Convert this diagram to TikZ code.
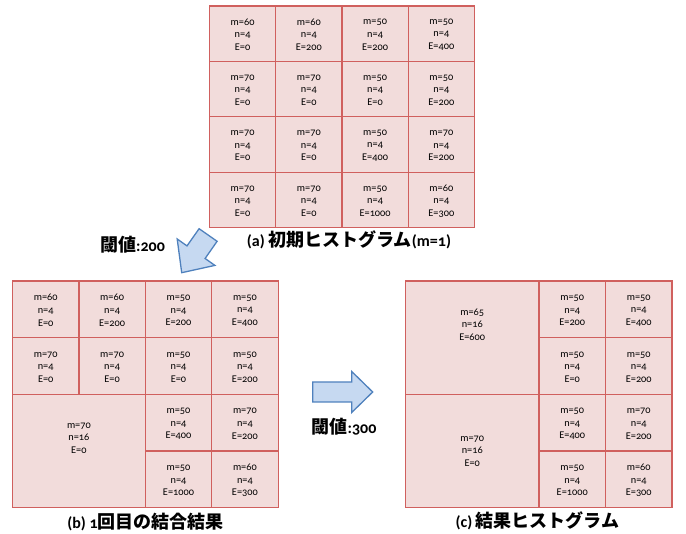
\documentclass[tikz,border=0pt]{standalone}
\usepackage{fontspec}
\setmainfont{Carlito}[Numbers=OldStyle]
\newfontfamily\cjk{Noto Sans CJK JP}
\definecolor{cellfill}{HTML}{F2DCDB}
\definecolor{cellline}{HTML}{D0605E}
\definecolor{arrfill}{HTML}{C6D9F1}
\definecolor{arrline}{HTML}{4F81BD}
\newcommand\jp[1]{{\cjk\bfseries\fontsize{18}{20}\selectfont #1}}
\tikzset{
  cellbox/.style={draw=cellline, fill=cellfill, line width=1.2pt, inner sep=0pt},
  celltext/.style={align=center, font=\fontsize{10.3}{12.6}\selectfont, inner sep=0pt},
  caption/.style={font=\bfseries\fontsize{16}{18}\selectfont, inner sep=0pt},
  blockarrow/.style={draw=arrline, fill=arrfill, line width=1.3pt, line join=miter}
}
\begin{document}
\begin{tikzpicture}[x=1pt,y=-1pt]
\useasboundingbox (0,0) rectangle (686,534);

% ---------- (a) initial histogram ----------
\foreach \c/\r/\m/\n/\e in {
  1/1/60/4/0, 2/1/60/4/200, 3/1/50/4/200, 4/1/50/4/400,
  1/2/70/4/0, 2/2/70/4/0,   3/2/50/4/0,   4/2/50/4/200,
  1/3/70/4/0, 2/3/70/4/0,   3/3/50/4/400, 4/3/70/4/200,
  1/4/70/4/0, 2/4/70/4/0,   3/4/50/4/1000,4/4/60/4/300}{
  \node[cellbox, minimum width=66.25pt, minimum height=55.4pt]
     (a\c\r) at ({209.5+66.25*(\c-0.5)},{6+55.4*(\r-0.5)}) {};
  \node[celltext] (ta\c\r) at ([yshift=-1pt]a\c\r.center) {m=\m\\n=\n\\E=\e};
}
\node[caption] (capa) at (349,240) {(a) \jp{初期ヒストグラム}(m=1)};

% ---------- (b) after first merge ----------
\foreach \c/\r/\m/\n/\e in {
  1/1/60/4/0, 2/1/60/4/200, 3/1/50/4/200, 4/1/50/4/400,
  1/2/70/4/0, 2/2/70/4/0,   3/2/50/4/0,   4/2/50/4/200,
  3/3/50/4/400, 4/3/70/4/200,
  3/4/50/4/1000,4/4/60/4/300}{
  \node[cellbox, minimum width=66.4pt, minimum height=56.7pt]
     (b\c\r) at ({12.5+66.4*(\c-0.5)},{281+56.7*(\r-0.5)}) {};
  \node[celltext] (tb\c\r) at ([yshift=-1pt]b\c\r.center) {m=\m\\n=\n\\E=\e};
}
\node[cellbox, minimum width=132.8pt, minimum height=113.4pt]
   (bbig) at ({12.5+66.4},{281+56.7*3}) {};
\node[celltext] (tbbig) at ([yshift=13pt]bbig.center) {m=70\\n=16\\E=0};
\node[caption] (capb) at (145.5,522) {(b) 1\jp{回目の結合結果}};

% ---------- (c) result histogram ----------
\foreach \c/\r/\m/\n/\e in {
  3/1/50/4/200, 4/1/50/4/400,
  3/2/50/4/0,   4/2/50/4/200,
  3/3/50/4/400, 4/3/70/4/200,
  3/4/50/4/1000,4/4/60/4/300}{
  \node[cellbox, minimum width=66.5pt, minimum height=56.7pt]
     (c\c\r) at ({539+66.5*(\c-2.5)},{281+56.7*(\r-0.5)}) {};
  \node[celltext] (tc\c\r) at ([yshift=-1pt]c\c\r.center) {m=\m\\n=\n\\E=\e};
}
\node[cellbox, minimum width=133.5pt, minimum height=113.4pt]
   (cbig1) at ({405.5+66.75},{281+56.7}) {};
\node[celltext] (tcbig1) at ([yshift=13pt]cbig1.center) {m=65\\n=16\\E=600};
\node[cellbox, minimum width=133.5pt, minimum height=113.4pt]
   (cbig2) at ({405.5+66.75},{281+56.7*3}) {};
\node[celltext] (tcbig2) at ([yshift=0pt]cbig2.center) {m=70\\n=16\\E=0};
\node[caption] (capc) at (537.5,521) {(c) \jp{結果ヒストグラム}};

% ---------- arrows ----------
\draw[blockarrow] (181.7,272.7) -- (214.9,265.4) -- (205.1,258.5) -- (217.1,241.3)
   -- (199.1,228.7) -- (187.0,245.9) -- (177.2,239.0) -- cycle;
\node[caption] (th1) at (132.5,245) {\jp{閾値}:200};

\draw[blockarrow] (312.7,382) -- (351.7,382) -- (351.7,371.5) -- (372.7,392)
   -- (351.7,412.5) -- (351.7,402) -- (312.7,402) -- cycle;
\node[caption] (th2) at (344,427) {\jp{閾値}:300};
\end{tikzpicture}
\end{document}
